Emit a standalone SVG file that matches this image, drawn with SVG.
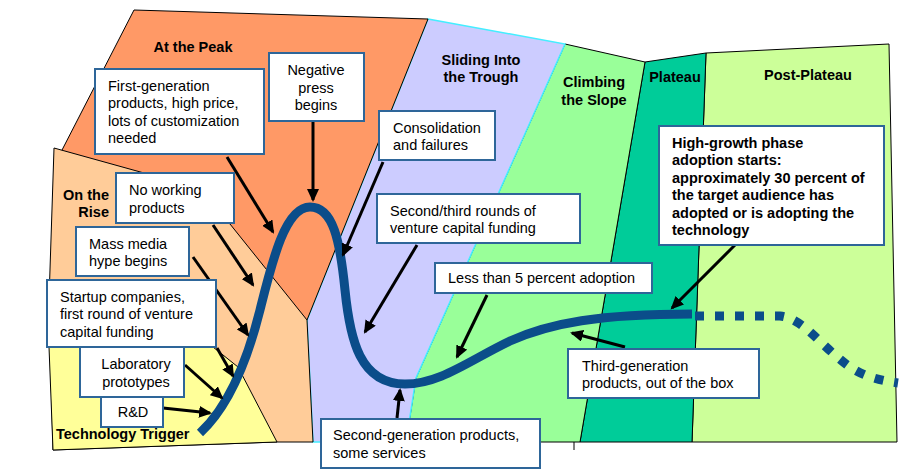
<svg xmlns="http://www.w3.org/2000/svg" width="919" height="473" viewBox="0 0 919 473">
<style>
.rg{stroke:#000;stroke-width:1;stroke-linejoin:miter}
.tt{font-family:"Liberation Sans",Arial,sans-serif;font-size:14.5px;font-weight:bold;fill:#000}
.tx{font-family:"Liberation Sans",Arial,sans-serif;font-size:14.5px;fill:#000}
.bx{fill:#fff;stroke:#2E6699;stroke-width:2}
.ar{stroke:#000;stroke-width:3;fill:none;marker-end:url(#ah)}
.cv{fill:none;stroke:#0B4D8A;stroke-width:9}
</style>
<defs>
<marker id="ah" markerUnits="userSpaceOnUse" markerWidth="14" markerHeight="12" refX="11" refY="6" orient="auto">
<path d="M0,0 L13,6 L0,12 z" fill="#000"/>
</marker>
</defs>
<rect width="919" height="473" fill="#fff"/>
<g id="regions">
<polygon id="post-plateau" class="rg" fill="#CCFF99" points="706,53 889,44 897,442 692,442"/>
<polygon id="plateau" class="rg" fill="#00CC99" points="645,62 706,53 692,442 580,442"/>
<polygon id="climbing" class="rg" fill="#99FF99" points="565,44 645,62 580,442 406,442 416,378"/>
<line class="rg" x1="574" y1="442" x2="574" y2="450"/>
<polygon id="trough" fill="#CCCCFF" stroke="#44EEFF" stroke-width="1.5" points="428,19 565,44 416,378 406,442 313,442 307,320"/>
<polygon id="peak" class="rg" fill="#FF9966" points="134,10 428,19 307,320 61,152"/>
<polygon id="rise" class="rg" fill="#FFCC99" points="54,148 180,183 230,224 307,320 313,442 277,442 53,450 49,300"/>
<polygon id="trigger" class="rg" fill="#FFFF99" points="49,347 213,347 238,367 277,442 53,450"/>
</g>
<g id="titles">
<text class="tt" x="193" y="52" text-anchor="middle">At the Peak</text>
<text class="tt" x="109" y="200" text-anchor="end">On the</text>
<text class="tt" x="109" y="217" text-anchor="end">Rise</text>
<text class="tt" x="481" y="65" text-anchor="middle">Sliding Into</text>
<text class="tt" x="481" y="82" text-anchor="middle">the Trough</text>
<text class="tt" x="594" y="87" text-anchor="middle">Climbing</text>
<text class="tt" x="594" y="105" text-anchor="middle">the Slope</text>
<text class="tt" x="675" y="82" text-anchor="middle">Plateau</text>
<text class="tt" x="808" y="80" text-anchor="middle">Post-Plateau</text>
<text class="tt" x="56" y="439">Technology Trigger</text>
</g>
<g id="curve">
<path class="cv" d="M200,433 C225,410 245,370 260,310 C272,262 285,207 310,207 C333,207 340,240 345,290 C350,340 360,384 405,384 C440,384 470,360 510,341 C550,323 600,314 692,314"/>
<path class="cv" stroke-dasharray="9,11" d="M695,316 L780,316 C800,318 815,338 835,355 C850,368 862,378 898,383"/>
</g>
<g id="connectors">
<line class="ar" x1="227" y1="157" x2="273" y2="232"/>
<line class="ar" x1="313" y1="121" x2="313" y2="200"/>
<line class="ar" x1="213" y1="225" x2="253" y2="285"/>
<line class="ar" x1="193" y1="257" x2="248" y2="335"/>
<line class="ar" x1="217" y1="348" x2="233" y2="376"/>
<line class="ar" x1="185" y1="365" x2="222" y2="398"/>
<line class="ar" x1="163" y1="408" x2="210" y2="413"/>
<line class="ar" x1="383" y1="162" x2="343" y2="255"/>
<line class="ar" x1="417" y1="245" x2="365" y2="332"/>
<line class="ar" x1="487" y1="295" x2="457" y2="357"/>
<line class="ar" x1="397" y1="418" x2="400" y2="390"/>
<line class="ar" x1="625" y1="347" x2="572" y2="333"/>
<line class="ar" x1="735" y1="245" x2="672" y2="308"/>
</g>
<g id="n-firstgen"><rect class="bx" x="95" y="69" width="169" height="85"/>
<text class="tx" x="108" y="91">First-generation</text><text class="tx" x="108" y="108">products, high price,</text><text class="tx" x="108" y="126">lots of customization</text><text class="tx" x="108" y="143">needed</text></g>
<g id="n-negative"><rect class="bx" x="269" y="53" width="95" height="68"/>
<text class="tx" x="316" y="75" text-anchor="middle">Negative</text><text class="tx" x="316" y="93" text-anchor="middle">press</text><text class="tx" x="316" y="110" text-anchor="middle">begins</text></g>
<g id="n-noworking"><rect class="bx" x="116" y="173" width="118" height="50"/>
<text class="tx" x="129" y="195">No working</text><text class="tx" x="129" y="213">products</text></g>
<g id="n-massmedia"><rect class="bx" x="76" y="227" width="113" height="49"/>
<text class="tx" x="89" y="249">Mass media</text><text class="tx" x="89" y="266">hype begins</text></g>
<g id="n-startup"><rect class="bx" x="47" y="280" width="169" height="67"/>
<text class="tx" x="60" y="302">Startup companies,</text><text class="tx" x="60" y="319">first round of venture</text><text class="tx" x="60" y="337">capital funding</text></g>
<g id="n-lab"><rect class="bx" x="80" y="347" width="104" height="50"/>
<text class="tx" x="136" y="369" text-anchor="middle">Laboratory</text><text class="tx" x="136" y="387" text-anchor="middle">prototypes</text></g>
<g id="n-rd"><rect class="bx" x="101" y="397" width="62" height="30"/>
<text class="tx" x="133" y="417" text-anchor="middle">R&amp;D</text></g>
<g id="n-consolidation"><rect class="bx" x="379" y="111" width="116" height="49"/>
<text class="tx" x="393" y="133">Consolidation</text><text class="tx" x="393" y="150">and failures</text></g>
<g id="n-secondthird"><rect class="bx" x="377" y="194" width="203" height="49"/>
<text class="tx" x="390" y="216">Second/third rounds of</text><text class="tx" x="390" y="233">venture capital funding</text></g>
<g id="n-lessthan5"><rect class="bx" x="435" y="263" width="217" height="30"/>
<text class="tx" x="448" y="283">Less than 5 percent adoption</text></g>
<g id="n-secondgen"><rect class="bx" x="321" y="419" width="219" height="49"/>
<text class="tx" x="333" y="440">Second-generation products,</text><text class="tx" x="333" y="458">some services</text></g>
<g id="n-thirdgen"><rect class="bx" x="568" y="349" width="191" height="49"/>
<text class="tx" x="582" y="371">Third-generation</text><text class="tx" x="582" y="388">products, out of the box</text></g>
<g id="n-highgrowth"><rect class="bx" x="659" y="126" width="225" height="119"/>
<text class="tt" x="672" y="148">High-growth phase</text><text class="tt" x="672" y="165">adoption starts:</text><text class="tt" x="672" y="183">approximately 30 percent of</text><text class="tt" x="672" y="200">the target audience has</text><text class="tt" x="672" y="218">adopted or is adopting the</text><text class="tt" x="672" y="235">technology</text></g>
</svg>
